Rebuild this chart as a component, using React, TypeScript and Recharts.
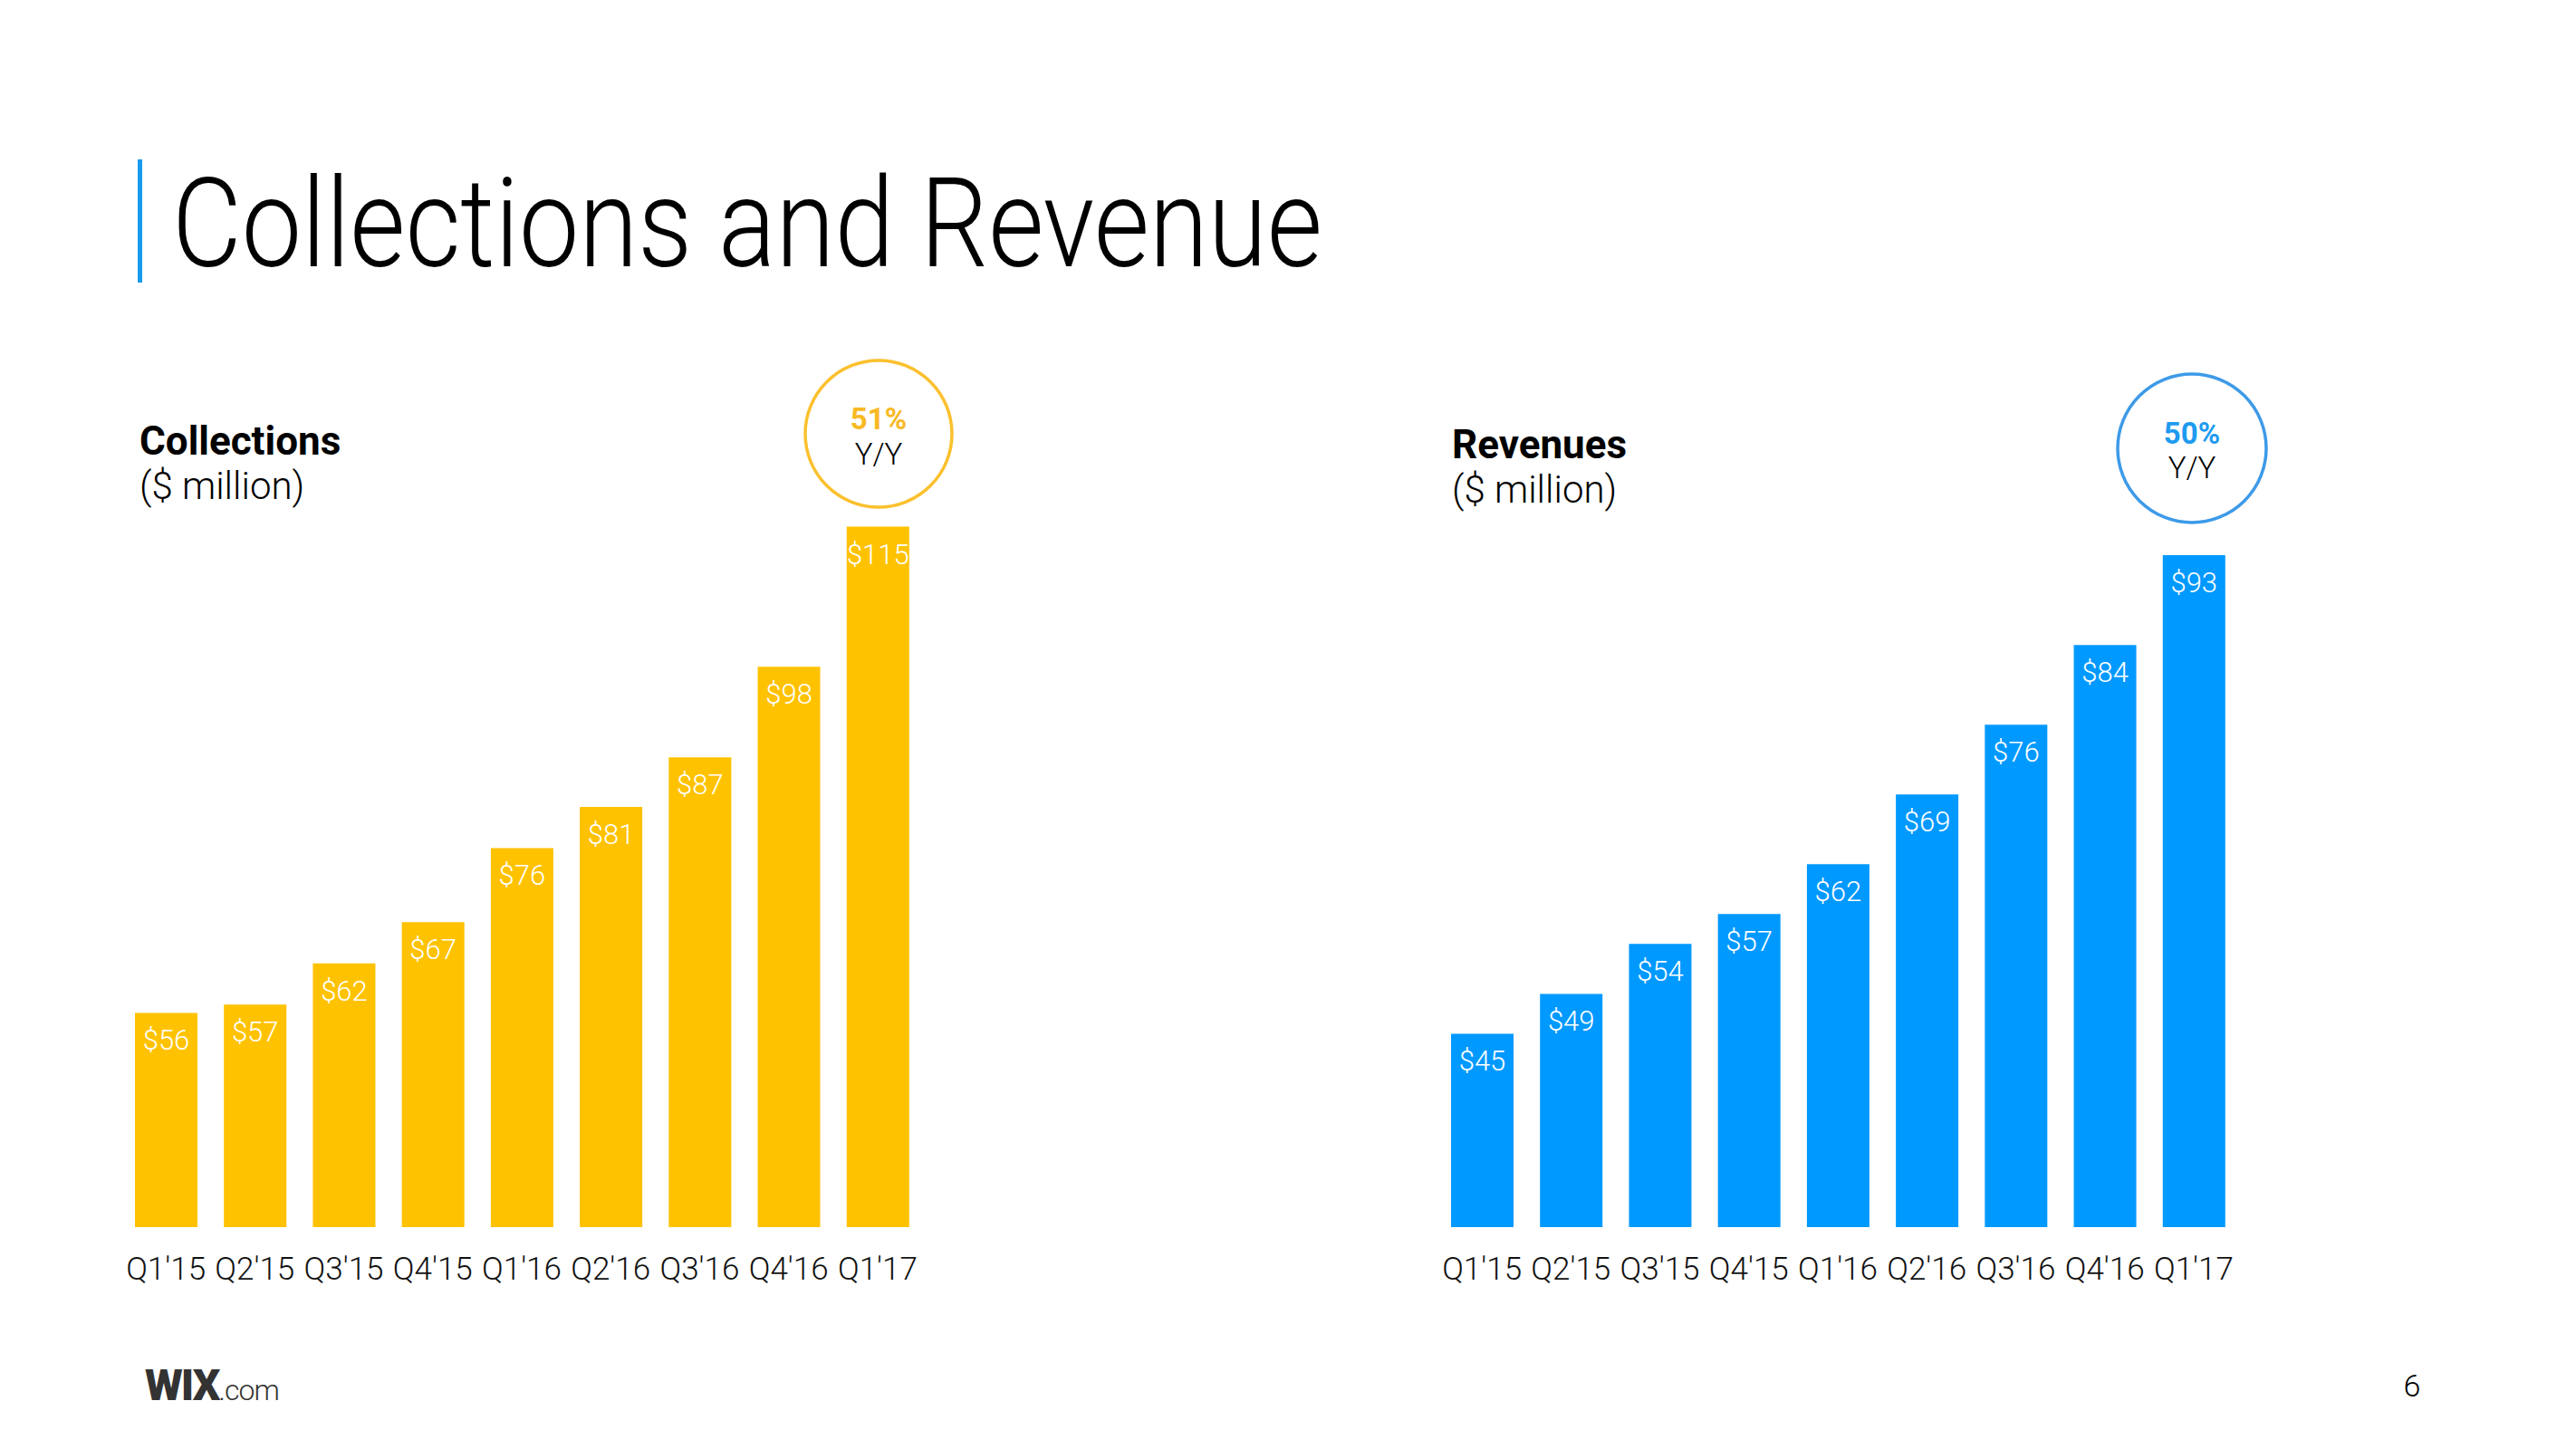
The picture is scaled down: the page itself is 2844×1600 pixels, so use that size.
import React from "react";
import { BarChart, Bar, XAxis, YAxis, LabelList } from "recharts";

const quarters = ["Q1'15", "Q2'15", "Q3'15", "Q4'15", "Q1'16", "Q2'16", "Q3'16", "Q4'16", "Q1'17"];
const collections = [56, 57, 62, 67, 76, 81, 87, 98, 115];
const revenues = [45, 49, 54, 57, 62, 69, 76, 84, 93];

const FONT = "Roboto, 'Liberation Sans', Arial, sans-serif";
const YELLOW = "#FFC200";
const BLUE = "#0099FF";

const collectionsData = quarters.map((q, i) => ({ quarter: q, value: collections[i] }));
const revenuesData = quarters.map((q, i) => ({ quarter: q, value: revenues[i] }));

const InsideLabel = (props: any) => {
  const { x, y, width, value } = props;
  return (
    <text x={x + width / 2} y={y + 41} fill="#fff" fontSize={31} fontWeight={300} fontFamily={FONT} textAnchor="middle">
      {`$${value}`}
    </text>
  );
};

const QuarterTick = (props: any) => {
  const { x, y, payload } = props;
  return (
    <text x={x} y={y + 58} fill="#111" fontSize={35} fontWeight={300} fontFamily={FONT} textAnchor="middle">
      {payload.value}
    </text>
  );
};

function QuarterChart({ data, color, domain }: { data: { quarter: string; value: number }[]; color: string; domain: [number, number] }) {
  return (
    <BarChart width={884} height={919} data={data} margin={{ top: 0, right: 0, bottom: 0, left: 0 }}>
      <XAxis dataKey="quarter" axisLine={false} tickLine={false} tickSize={0} tickMargin={0} height={100} interval={0} tick={<QuarterTick />} />
      <YAxis hide domain={domain} allowDataOverflow />
      <Bar dataKey="value" fill={color} barSize={69} isAnimationActive={false}>
        <LabelList dataKey="value" content={<InsideLabel />} />
      </Bar>
    </BarChart>
  );
}

export default function App() {
  return (
    <div style={{ position: "absolute", left: 0, top: 0, width: 2844, height: 1600, background: "#fff", overflow: "hidden" }}>
      <svg width={2844} height={1600} style={{ position: "absolute", left: 0, top: 0 }}>
        <rect x={152} y={176} width={5} height={136} fill="#1A9BF0" />
        <text x={190} y={294} fontSize={138} fontWeight={300} fontFamily={FONT} fill="#000" textLength={1270} lengthAdjust="spacingAndGlyphs">
          Collections and Revenue
        </text>

        <text x={154} y={502} fontSize={44} fontWeight={700} fontFamily={FONT} fill="#000">Collections</text>
        <text x={154} y={551} fontSize={42} fontWeight={300} fontFamily={FONT} fill="#000">($ million)</text>
        <text x={1603} y={506} fontSize={44} fontWeight={700} fontFamily={FONT} fill="#000">Revenues</text>
        <text x={1603} y={555} fontSize={42} fontWeight={300} fontFamily={FONT} fill="#000">($ million)</text>

        <circle cx={970} cy={479} r={81} fill="none" stroke="#FBC02D" strokeWidth={3.5} />
        <text x={970} y={474} fontSize={33} fontWeight={700} fontFamily={FONT} fill="#F7B924" textAnchor="middle">51%</text>
        <text x={970} y={513} fontSize={33} fontWeight={300} fontFamily={FONT} fill="#000" textAnchor="middle">Y/Y</text>

        <circle cx={2420} cy={495} r={82} fill="none" stroke="#3D9AE8" strokeWidth={3.5} />
        <text x={2420} y={490} fontSize={33} fontWeight={700} fontFamily={FONT} fill="#1E9BF0" textAnchor="middle">50%</text>
        <text x={2420} y={528} fontSize={33} fontWeight={300} fontFamily={FONT} fill="#000" textAnchor="middle">Y/Y</text>

        <text x={160} y={1546} fontSize={48} fontWeight={900} fontFamily={FONT} fill="#333" letterSpacing={-2}>
          WIX<tspan fontSize={32} fontWeight={300} letterSpacing={-1}>.com</tspan>
        </text>
        <text x={2663} y={1542} fontSize={34} fontWeight={300} fontFamily={FONT} fill="#000" textAnchor="middle">6</text>
      </svg>

      <div style={{ position: "absolute", left: 134, top: 536 }}>
        <QuarterChart data={collectionsData} color={YELLOW} domain={[30, 120]} />
      </div>
      <div style={{ position: "absolute", left: 1587, top: 536 }}>
        <QuarterChart data={revenuesData} color={BLUE} domain={[25.6, 100]} />
      </div>
    </div>
  );
}
